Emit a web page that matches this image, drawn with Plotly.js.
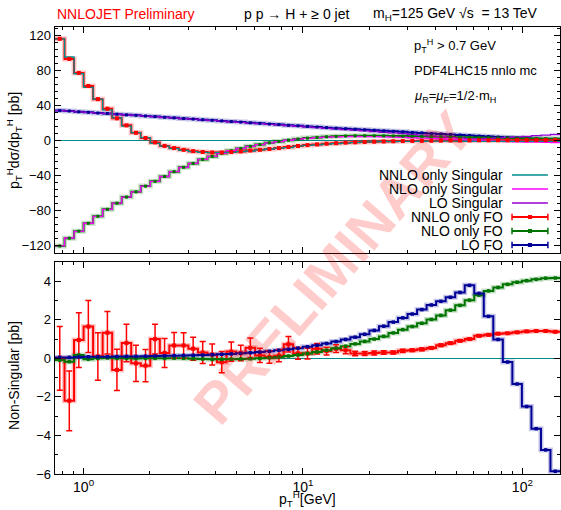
<!DOCTYPE html>
<html><head><meta charset="utf-8">
<script src="https://cdn.plot.ly/plotly-3.0.1.min.js"></script>
<style>body{margin:0;background:#fff}#chart{width:561px;height:510px}</style>
</head><body><div id="chart"></div>
<script>
// ---- data (bins in pT^H [GeV]) ----
const binEdges = [0.7408,0.8187,0.9048,1.0000,1.1052,1.2214,1.3499,1.4918,1.6487,1.8221,2.0138,2.2255,2.4596,2.7183,3.0042,3.3201,3.6693,4.0552,4.4817,4.9530,5.4739,6.0496,6.6859,7.3891,8.1662,9.0250,9.9742,11.023,12.182,13.464,14.880,16.445,18.174,20.086,22.198,24.533,27.113,29.964,33.115,36.598,40.447,44.701,49.402,54.598,60.340,66.686,73.700,81.451,90.017,99.484,109.95,121.51,134.29,148.41];

// top panel: pT dsigma/dpT [pb]
const nnloSingular = [116,95.2,76.05,60.35,46.9,34.67,25.6,16.2,8.76,2.88,-3.5,-6.78,-9.67,-11.67,-13,-13.8,-14.2,-13.8,-13.85,-13.08,-12.35,-11.15,-10.07,-9.14,-8.53,-6.86,-5.85,-5.3,-4.38,-3.9,-3.22,-2.65,-2.25,-1.98,-1.7,-1.5,-1.39,-1.27,-1.17,-1.14,-1.13,-1.14,-1.16,-1.2,-1.27,-1.27,-1.28,-1.3,-1.3,-1.35,-1.32,-1.32,-1.28];
const nloSingular = [-120.91,-111.83,-104.17,-94.96,-87,-79.02,-72,-65,-58.99,-52.5,-47,-41.5,-36.01,-31,-26.48,-21.97,-18.45,-14.95,-11.96,-9.47,-6.98,-5,-3.03,-1.57,-0.02,1.22,2.15,2.87,3.48,3.88,4.17,4.25,4.22,4.1,3.86,3.58,3.21,2.85,2.48,2.08,1.67,1.1,0.65,0.18,-0.28,-0.7,-1.08,-1.44,-1.75,-2.03,-2.25,-2.46,-2.62];
const loSingular = [33.85,33.35,32.43,31.82,31.02,30.52,29.71,28.9,28.4,27.59,26.88,26.07,25.46,24.65,24.04,23.23,22.61,21.89,21.07,20.44,19.61,18.97,18.13,17.48,16.63,15.97,15.2,14.42,13.63,12.93,12.12,11.5,10.65,9.95,9.03,8.32,7.5,6.6,5.87,4.93,4.24,3.33,2.58,1.61,1.43,2.02,2.62,3.19,3.83,4.5,5.15,5.85,6.56];
const nnloFO = [116,93,77,62,47,36,25,17,8.5,2.5,-2.5,-6.5,-9,-11,-12.5,-13.5,-14,-14,-13.5,-12.8,-11.8,-11,-10,-9,-7.8,-6.6,-5.6,-4.8,-4,-3.4,-2.8,-2.4,-2,-1.7,-1.4,-1.2,-1,-0.85,-0.7,-0.6,-0.45,-0.35,-0.25,-0.2,-0.1,-0.05,0,0,0.05,0.05,0.1,0.1,0.1];
const nloFO = [-121,-112,-104,-95,-87,-79,-72,-65,-59,-52.5,-47,-41.5,-36,-31,-26.5,-22,-18.5,-15,-12,-9.5,-7,-5,-3,-1.5,0.1,1.4,2.4,3.2,3.9,4.4,4.8,5.0,5.1,5.1,5.0,4.9,4.7,4.5,4.3,4.1,3.9,3.6,3.4,3.2,3.0,2.8,2.6,2.4,2.2,2.0,1.85,1.7,1.55];
const loFO = [33.9,33.4,32.5,31.9,31.1,30.6,29.8,29.0,28.5,27.7,27.0,26.2,25.6,24.8,24.2,23.4,22.8,22.1,21.3,20.7,19.9,19.3,18.5,17.9,17.1,16.5,15.8,15.1,14.4,13.8,13.1,12.6,11.9,11.4,10.7,10.2,9.6,8.9,8.4,7.7,7.2,6.5,6.0,5.4,4.8,4.2,3.6,3.0,2.5,2.0,1.5,1.1,0.7];

// bottom panel: non-singular [pb]
const nnloNS = [0,-2.2,0.95,1.65,0.1,1.33,-0.6,0.8,-0.26,-0.38,1.0,0.28,0.67,0.67,0.5,0.3,0.2,-0.2,0.35,0.28,0.55,0.15,0.07,0.14,0.73,0.26,0.25,0.5,0.38,0.5,0.42,0.25,0.25,0.28,0.3,0.3,0.39,0.42,0.47,0.54,0.68,0.79,0.91,1.0,1.17,1.22,1.28,1.3,1.35,1.4,1.42,1.42,1.38];
const nnloNSerr = [1.65,1.55,1.42,1.35,1.23,1.1,1.07,0.97,0.94,0.84,0.77,0.75,0.67,0.66,0.6,0.57,0.55,0.55,0.5,0.4,0.5,0.37,0.32,0.32,0.4,0.3,0.28,0.27,0.2,0.2,0.18,0.12,0.1,0.1,0.09,0.08,0.08,0.07,0.07,0.06,0.06,0.06,0.05,0.05,0.05,0.05,0.04,0.04,0.04,0.04,0.04,0.04,0.04];
const nloNS = [-0.09,-0.17,0.17,-0.04,0,0.02,0,0,-0.01,0,0,0,0.01,0,-0.02,-0.03,-0.05,-0.05,-0.04,-0.03,-0.02,0,0.03,0.07,0.12,0.18,0.25,0.33,0.42,0.52,0.63,0.75,0.88,1.0,1.14,1.32,1.49,1.65,1.82,2.02,2.23,2.5,2.75,3.02,3.28,3.5,3.68,3.84,3.95,4.03,4.1,4.16,4.17];
const loNS = [0.05,0.05,0.07,0.08,0.08,0.08,0.09,0.1,0.1,0.11,0.12,0.13,0.14,0.15,0.16,0.17,0.19,0.21,0.23,0.26,0.29,0.33,0.37,0.42,0.47,0.53,0.6,0.68,0.77,0.87,0.98,1.1,1.25,1.45,1.67,1.88,2.1,2.3,2.53,2.77,2.96,3.17,3.42,3.79,3.37,2.18,0.98,-0.19,-1.33,-2.5,-3.65,-4.75,-5.86];

const xTickVals = [1, 10, 100];
const xTickText = ['10<sup>0</sup>', '10<sup>1</sup>', '10<sup>2</sup>'];
const xMinorVals = [0.8,0.9,2,3,4,5,6,7,8,9,20,30,40,50,60,70,80,90];
const topTicks = [-120,-80,-40,0,40,80,120];
const botTicks = [-6,-4,-2,0,2,4];

const legendNames = ['NNLO only Singular','NLO only Singular','LO Singular','NNLO only FO','NLO only FO','LO FO'];

// ---- styling ----
const C = {teal:'#008b8b', mag:'#ff00ff', pur:'#9400d3', red:'#ff0000', grn:'#007400', blu:'#000096'};
const HALO = {red:'rgba(255,0,0,0.22)', grn:'rgba(0,116,0,0.22)', blu:'rgba(0,0,150,0.22)'};
const FONT = 'Liberation Sans, Arial, Helvetica, sans-serif';

const centers = binEdges.slice(0,-1).map((e,i)=>Math.sqrt(e*binEdges[i+1]));
function step(vals, color, width, xa, ya){
  return {type:'scatter', mode:'lines', x: binEdges, y: vals.concat([vals[vals.length-1]]),
    line:{shape:'hv', color:color, width:width}, xaxis:xa, yaxis:ya, hoverinfo:'skip', showlegend:false};
}
function pts(vals, color, size, xa, ya, err){
  const t = {type:'scatter', mode:'markers', x: centers, y: vals,
    marker:{symbol:'square', color:color, size:size}, xaxis:xa, yaxis:ya, hoverinfo:'skip', showlegend:false};
  if (err) t.error_y = {type:'data', array: err, visible:true, color: color, thickness:1.5, width:3};
  return t;
}

const data = [
  // top panel
  step(loFO, HALO.blu, 5, 'x2','y'), step(nloFO, HALO.grn, 5, 'x2','y'), step(nnloFO, HALO.red, 5, 'x2','y'),
  step(loFO, C.blu, 2, 'x2','y'), step(nloFO, C.grn, 2, 'x2','y'), step(nnloFO, C.red, 2, 'x2','y'),
  step(loSingular, C.pur, 1.3, 'x2','y'), step(nloSingular, C.mag, 1.3, 'x2','y'), step(nnloSingular, C.teal, 1.3, 'x2','y'),
  pts(loFO, C.blu, 3, 'x2','y'), pts(nloFO, C.grn, 3, 'x2','y'), pts(nnloFO, C.red, 4, 'x2','y'),
  // bottom panel
  step(nnloNS, HALO.red, 5, 'x','y2'), step(nloNS, HALO.grn, 5, 'x','y2'), step(loNS, HALO.blu, 5, 'x','y2'),
  step(nnloNS, C.red, 2, 'x','y2'), step(nloNS, C.grn, 2, 'x','y2'), step(loNS, C.blu, 2, 'x','y2'),
  pts(nnloNS, C.red, 4, 'x','y2', nnloNSerr), pts(nloNS, C.grn, 3.5, 'x','y2'), pts(loNS, C.blu, 3.5, 'x','y2')
];

const xRange = [Math.log10(binEdges[0]), Math.log10(binEdges[binEdges.length-1])];
const axBase = {showline:true, linecolor:'#000', linewidth:1.4, mirror:'allticks', ticks:'inside', ticklen:6,
  tickcolor:'#000', tickwidth:1, showgrid:false, tickfont:{family:FONT, size:13, color:'#000'}};

const legendY = [0.6689,0.6376,0.6063,0.5749,0.5436,0.5123];
const legendColors = [C.teal, C.mag, C.pur, C.red, C.grn, C.blu];
const lx0 = 0.905, lx1 = 0.976;
const shapes = [];
const annotations = [];

const txt = (text, x, y, opts={}) => Object.assign({xref:'paper', yref:'paper', x, y, xanchor:'left', yanchor:'middle',
  showarrow:false, text, font:{family:FONT, size:14, color:'#000'}}, opts);

// watermark first so that other texts sit on top of it
annotations.push(txt('<b>PRELIMINARY</b>', 0.552, 0.462, {xanchor:'center', textangle:-49,
  font:{family:FONT, size:57, color:'rgba(255,0,0,0.2)'}}));

legendNames.forEach((n,i)=>{
  const y = legendY[i], fo = i>=3;
  annotations.push({xref:'paper', yref:'paper', x:0.891, y:y, xanchor:'right', yanchor:'middle', showarrow:false,
    text:n, font:{family:FONT, size:14, color:'#000'}});
  shapes.push({type:'line', xref:'paper', yref:'paper', x0:lx0, x1:lx1, y0:y, y1:y, line:{color:legendColors[i], width: fo?2:1.3}});
  if (fo) {
    [lx0, lx1].forEach(xx=>shapes.push({type:'line', xref:'paper', yref:'paper', x0:xx, x1:xx, y0:y-0.0075, y1:y+0.0075, line:{color:legendColors[i], width:1.5}}));
    const xm = (lx0+lx1)/2;
    shapes.push({type:'rect', xref:'paper', yref:'paper', x0:xm-0.004, x1:xm+0.004, y0:y-0.0045, y1:y+0.0045, line:{width:0}, fillcolor:legendColors[i]});
  }
});

annotations.push(
  txt('NNLOJET Preliminary', 0.0, 1.029, {font:{family:FONT, size:14, color:'#ff0000'}}),
  txt('p p \u2192 H + \u2265 0 jet', 0.3703, 1.029),
  txt('m<sub>H</sub>=125 GeV \u221As\u00a0 = 13 TeV', 0.6257, 1.029),
  txt('p<sub>T</sub><sup>H</sup> > 0.7 GeV', 0.707, 0.9575, {font:{family:FONT, size:13, color:'#000'}}),
  txt('PDF4LHC15 nnlo mc', 0.707, 0.9016, {font:{family:FONT, size:13, color:'#000'}}),
  txt('<i>\u03bc</i><sub>R</sub>=<i>\u03bc</i><sub>F</sub>=1/2\u00b7m<sub>H</sub>', 0.707, 0.8456, {font:{family:FONT, size:13, color:'#000'}}),
  txt('p<sub>T</sub><sup>H</sup>d\u03c3/dp<sub>T</sub><sup>H</sup> [pb]', -0.0812, 0.7472, {xanchor:'center', textangle:-90}),
  txt('Non-Singular [pb]', -0.0812, 0.2215, {xanchor:'center', textangle:-90}),
  txt('p<sub>T</sub><sup>H</sup>[GeV]', 0.5, -0.0560, {xanchor:'center'})
);

const layout = {
  width:561, height:510, margin:{l:55, r:1, t:27, b:36},
  paper_bgcolor:'#fff', plot_bgcolor:'#fff', showlegend:false,
  xaxis: Object.assign({}, axBase, {type:'log', range:xRange, domain:[0,1], anchor:'y2',
    tickmode:'array', tickvals:xTickVals, ticktext:xTickText, tickfont:{family:FONT, size:14, color:'#000'},
    minor:{ticks:'inside', ticklen:3, tickcolor:'#000', tickvals:xMinorVals}, zeroline:false}),
  xaxis2: Object.assign({}, axBase, {type:'log', range:xRange, domain:[0,1], anchor:'y', matches:'x',
    tickmode:'array', tickvals:xTickVals, showticklabels:false,
    minor:{ticks:'inside', ticklen:3, tickcolor:'#000', tickvals:xMinorVals}, zeroline:false}),
  yaxis: Object.assign({}, axBase, {domain:[0.4944,1], range:[-129,129.5], anchor:'x2',
    tickmode:'array', tickvals:topTicks, minor:{ticks:'inside', ticklen:3, tickcolor:'#000', dtick:8, tick0:0},
    zeroline:true, zerolinecolor:C.teal, zerolinewidth:1.3}),
  yaxis2: Object.assign({}, axBase, {domain:[0,0.4743], range:[-6,5], anchor:'x',
    tickmode:'array', tickvals:botTicks, minor:{ticks:'inside', ticklen:3, tickcolor:'#000', dtick:1, tick0:0},
    zeroline:true, zerolinecolor:C.teal, zerolinewidth:1.3}),
  shapes, annotations
};

Plotly.newPlot('chart', data, layout, {staticPlot:true, displayModeBar:false});
</script></body></html>
